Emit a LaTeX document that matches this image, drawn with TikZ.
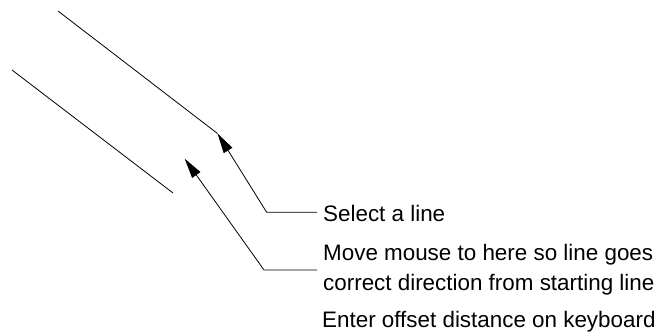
\documentclass[tikz,border=0pt]{standalone}
\usepackage{fontspec}
\setmainfont{Liberation Sans}
\usetikzlibrary{arrows.meta}
\begin{document}
\begin{tikzpicture}[x=1pt,y=-1pt,
  edge/.style={line width=0.8pt,black},
  callout/.style={line width=0.8pt,black,-{Triangle[length=20pt,width=10pt]}},
  lbl/.style={anchor=base west,inner xsep=6pt,inner ysep=0pt,font=\fontsize{22.4}{30}\selectfont,align=left}]
\useasboundingbox (0,0) rectangle (664,335);
% the two lines
\coordinate (a1) at (58,11);
\coordinate (t1) at (217.5,133.5);
\coordinate (a2) at (12,70);
\coordinate (b2) at (173,193);
\draw[edge] (a1) -- (t1);
\draw[edge] (a2) -- (b2);
% labels
\node[lbl] (sel) at (317,221) {Select a line};
\node[lbl] (mv) at (317,290.5) {Move mouse to here so line goes\\correct direction from starting line};
\node[lbl] (ent) at (316,327) {Enter offset distance on keyboard};
% callouts
\coordinate (e1) at (266.7,212.3);
\coordinate (e2) at (264,270);
\coordinate (t2) at (184.7,158.7);
\draw[callout] (sel.west |- e1) -- (e1) -- (t1);
\draw[callout] (mv.west |- e2) -- (e2) -- (t2);
\end{tikzpicture}
\end{document}
